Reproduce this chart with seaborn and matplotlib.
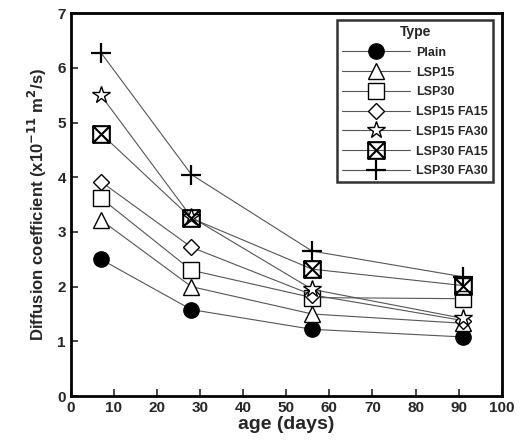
import numpy as np
import pandas as pd
import matplotlib
matplotlib.use("Agg")
import matplotlib.pyplot as plt
from matplotlib.path import Path
from matplotlib.lines import Line2D
import seaborn as sns

ages = [7, 28, 56, 91]
plain = [2.50, 1.58, 1.22, 1.08]
lsp15 = [3.22, 2.00, 1.50, 1.33]
lsp30 = [3.62, 2.30, 1.80, 1.78]
lsp15_fa15 = [3.92, 2.72, 1.85, 1.38]
lsp15_fa30 = [5.50, 3.27, 1.95, 1.42]
lsp30_fa15 = [4.80, 3.25, 2.32, 2.02]
lsp30_fa30 = [6.28, 4.05, 2.65, 2.18]
names = ["Plain", "LSP15", "LSP30", "LSP15 FA15", "LSP15 FA30", "LSP30 FA15", "LSP30 FA30"]
series = [plain, lsp15, lsp30, lsp15_fa15, lsp15_fa30, lsp30_fa15, lsp30_fa30]
x_ticks = [0, 10, 20, 30, 40, 50, 60, 70, 80, 90, 100]
y_ticks = [0, 1, 2, 3, 4, 5, 6, 7]

sns.set_theme(style="ticks")
plt.rcParams['font.family'] = ['Liberation Sans', 'DejaVu Sans']

boxx = Path([(-1, -1), (1, -1), (1, 1), (-1, 1), (-1, -1),
             (-1, -1), (1, 1), (-1, 1), (1, -1)],
            [Path.MOVETO, Path.LINETO, Path.LINETO, Path.LINETO, Path.CLOSEPOLY,
             Path.MOVETO, Path.LINETO, Path.MOVETO, Path.LINETO])

styles = [
    dict(marker="o", ms=11, mfc="black", mec="black", mew=1.0),
    dict(marker="^", ms=11, mfc="white", mec="black", mew=1.0),
    dict(marker="s", ms=12, mfc="white", mec="black", mew=1.0),
    dict(marker="D", ms=8, mfc="white", mec="black", mew=1.0),
    dict(marker="*", ms=13, mfc="white", mec="black", mew=1.0),
    dict(marker=boxx, ms=12, mfc="none", mec="black", mew=1.5),
    dict(marker="+", ms=14, mfc="black", mec="black", mew=1.6),
]

fig = plt.figure(figsize=(5.2, 4.41), dpi=100)
ax = fig.add_axes([0.136, 0.102, 0.829, 0.868])

df = pd.DataFrame({"age": np.tile(ages, len(names)),
                   "D": np.concatenate(series),
                   "Type": np.repeat(names, len(ages))})

handles = []
for name, st in zip(names, styles):
    sub = df[df["Type"] == name]
    sns.lineplot(data=sub, x="age", y="D", ax=ax, color="#555555", lw=0.8,
                 markersize=st["ms"], marker=st["marker"],
                 markerfacecolor=st["mfc"], markeredgecolor=st["mec"],
                 markeredgewidth=st["mew"], legend=False, zorder=3)
    handles.append(Line2D([0], [0], color="#555555", lw=0.8, marker=st["marker"],
                          markersize=st["ms"], markerfacecolor=st["mfc"],
                          markeredgecolor=st["mec"], markeredgewidth=st["mew"]))

ax.set_xlim(0, 100)
ax.set_ylim(0, 7)
ax.set_xticks(x_ticks)
ax.set_yticks(y_ticks)
ax.tick_params(direction="in", length=5, width=1.2, labelsize=11)
for lab in ax.get_xticklabels() + ax.get_yticklabels():
    lab.set_fontweight("bold")
for sp in ax.spines.values():
    sp.set_visible(True)
    sp.set_linewidth(2)
    sp.set_color("black")

ax.set_xlabel("age (days)", fontsize=14, fontweight="bold", labelpad=1)
ax.set_ylabel(r"Diffusion coefficient (x10$^{\mathbf{-11}}$ m$^{\mathbf{2}}$/s)",
              fontsize=12, fontweight="bold", labelpad=6)

leg = ax.legend(handles, names, title="Type", loc="upper right",
                bbox_to_anchor=(0.980, 0.982), borderaxespad=0,
                frameon=True, fancybox=False,
                edgecolor="black", handlelength=5.4, handletextpad=0.55,
                labelspacing=0.62,
                prop={"weight": "bold", "size": 9}, borderpad=0.4)
leg.get_frame().set_linewidth(1.8)
leg.get_title().set_fontweight("bold")
leg.get_title().set_fontsize(10)

fig.savefig("out.png", dpi=100)
